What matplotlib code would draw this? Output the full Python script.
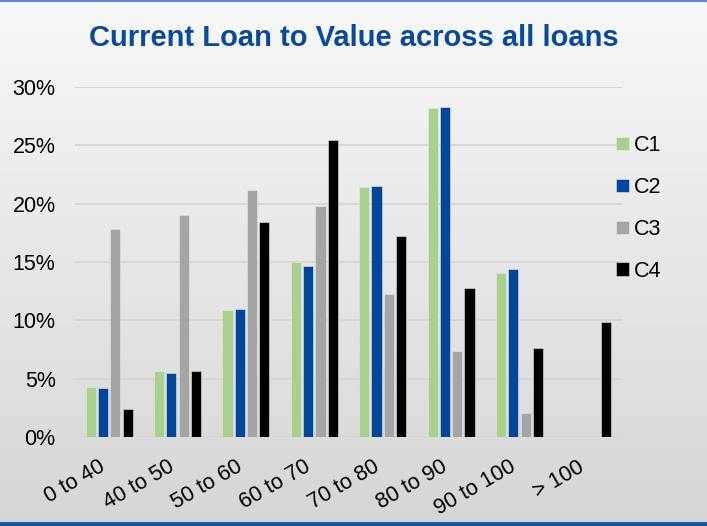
import numpy as np
import matplotlib
matplotlib.use("Agg")
import matplotlib.pyplot as plt
from matplotlib.ticker import PercentFormatter
from matplotlib.lines import Line2D

plt.rcParams['font.family'] = ['Liberation Sans', 'DejaVu Sans']

# datos (en %)
categorias = ["0 to 40", "40 to 50", "50 to 60", "60 to 70",
              "70 to 80", "80 to 90", "90 to 100", "> 100"]
series = ["C1", "C2", "C3", "C4"]
c1 = [4.3, 5.7, 10.9, 15.0, 21.4, 28.2, 14.1, 0.0]
c2 = [4.2, 5.5, 11.0, 14.7, 21.5, 28.3, 14.4, 0.0]
c3 = [17.8, 19.0, 21.2, 19.8, 12.3, 7.4, 2.1, 0.0]
c4 = [2.4, 5.7, 18.4, 25.5, 17.2, 12.8, 7.6, 9.9]
colores = ["#a9d18e", "#00469a", "#a5a5a5", "#000000"]

fig = plt.figure(figsize=(7.07, 5.26), dpi=100)

# fondo con degradado
bg = fig.add_axes([0, 0, 1, 1], zorder=-10)
grad = np.linspace(0, 1, 256).reshape(-1, 1)
bg.imshow(grad, aspect="auto", extent=[0, 1, 0, 1], origin="upper",
          cmap=matplotlib.colors.LinearSegmentedColormap.from_list(
              "bg", ["#f8f8f8", "#d6d6d6"]))
bg.axis("off")
# bordes azules
bg.add_line(Line2D([0, 1], [0.999, 0.999], color="#5b8fd0", lw=1.5, transform=bg.transAxes))
bg.add_line(Line2D([0, 1], [0.004, 0.004], color="#1756a3", lw=3.5, transform=bg.transAxes))

ax = fig.add_axes([75 / 707, 1 - 437 / 526, 547 / 707, 350 / 526])
ax.set_facecolor("none")

x = np.arange(len(categorias))
paso = 0.18
ancho = 0.148
for i, (nombre, vals) in enumerate(zip(series, [c1, c2, c3, c4])):
    ax.bar(x + (i - 1.5) * paso, np.array(vals) / 100, ancho, color=colores[i],
           label=nombre, zorder=3, edgecolor="#e8e8e8", linewidth=0.4)

ax.set_xlim(-0.5, len(categorias) - 0.5)
ax.set_ylim(0, 0.30)
ax.set_yticks(np.arange(0, 0.31, 0.05))
ax.yaxis.set_major_formatter(PercentFormatter(1.0, decimals=0))
ax.yaxis.grid(True, color="#d4d4d4", lw=1.2, zorder=0)
ax.set_axisbelow(True)
for s in ax.spines.values():
    s.set_visible(False)
ax.tick_params(axis="both", length=0, labelsize=15.5, colors="black")
ax.tick_params(axis="y", pad=14)
ax.set_xticks(x)
ax.set_xticklabels(categorias, rotation=30, ha="right")
ax.tick_params(axis="x", pad=14)

fig.text(0.5, 1 - 38 / 526, "Current Loan to Value across all loans", ha="center",
         va="center", fontsize=21, fontweight="bold", color="#0a4a9a")

ax.legend(loc="upper left", bbox_to_anchor=(0.974, 0.887), frameon=False,
          fontsize=15.5, handlelength=0.6, handleheight=0.6, handletextpad=0.2,
          labelspacing=0.97, borderaxespad=0)

fig.savefig("out.png", dpi=100)
